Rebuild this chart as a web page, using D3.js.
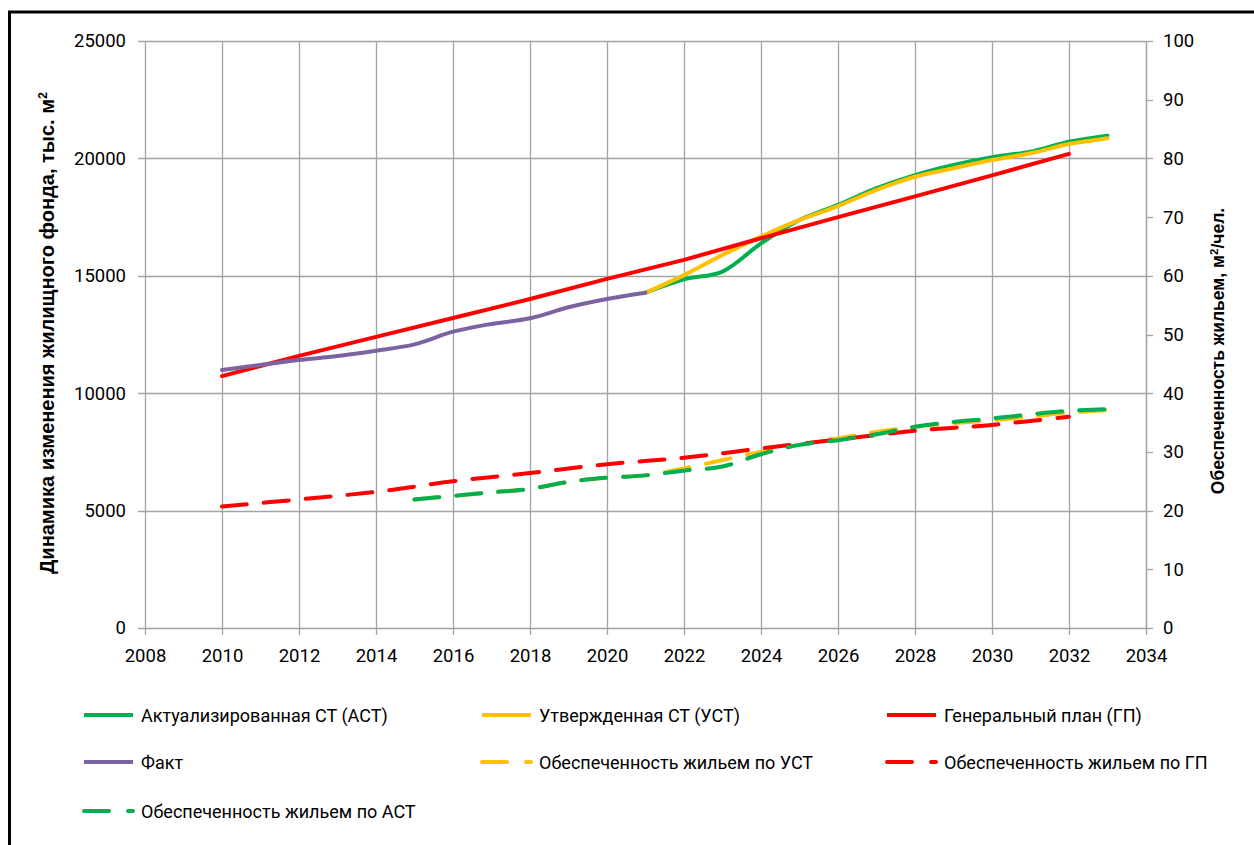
<!DOCTYPE html>
<html><head><meta charset="utf-8">
<script src="https://cdn.jsdelivr.net/npm/d3@7"></script>
<style>
html,body{margin:0;padding:0;background:#fff;}
text{font-family:Roboto,"Open Sans",sans-serif;fill:#000;}
</style></head>
<body>
<svg id="chart" width="1254" height="845"></svg>
<script>
// ---- data ----
const factYears = [2010,2011,2012,2013,2014,2015,2016,2017,2018,2019,2020,2021];
const factValues = [10990,11200,11410,11580,11810,12080,12620,12950,13190,13660,14010,14280];

const astYears = [2021,2022,2023,2024,2025,2026,2027,2028,2029,2030,2031,2032,2033];
const astValues = [14280,14850,15180,16380,17380,18020,18730,19290,19720,20050,20290,20710,20970];

const ustYears = [2021,2022,2023,2024,2025,2026,2027,2028,2029,2030,2031,2032,2033];
const ustValues = [14280,15030,15890,16670,17380,17970,18660,19220,19580,19930,20220,20610,20860];

const gpYears = [2010,2012,2014,2016,2018,2020,2022,2024,2026,2028,2030,2032];
const gpValues = [10730,11590,12400,13200,14010,14870,15680,16600,17500,18380,19280,20190];

const provUstYears = [2015,2016,2017,2018,2019,2020,2021,2022,2023,2024,2025,2026,2027,2028,2029,2030,2031,2032,2033];
const provUstValues = [21.9,22.5,23.1,23.7,24.9,25.6,26.0,27.2,28.6,30.0,31.2,32.3,33.4,34.3,34.9,35.4,36.0,36.7,37.1];

const provGpYears = [2010,2012,2014,2016,2018,2020,2022,2024,2026,2028,2030,2032];
const provGpValues = [20.7,21.9,23.2,25.0,26.4,27.9,29.0,30.6,32.1,33.6,34.6,36.0];

const provAstYears = [2015,2016,2017,2018,2019,2020,2021,2022,2023,2024,2025,2026,2027,2028,2029,2030,2031,2032,2033];
const provAstValues = [21.9,22.5,23.1,23.7,24.9,25.6,26.0,26.8,27.5,29.6,31.2,32.0,33.0,34.3,35.1,35.7,36.4,37.0,37.3];

const xTicks = [2008,2010,2012,2014,2016,2018,2020,2022,2024,2026,2028,2030,2032,2034];
const yLeftTicks = [0,5000,10000,15000,20000,25000];
const yRightTicks = [0,10,20,30,40,50,60,70,80,90,100];

const seriesSolid = [
  {name:"Актуализированная СТ (АСТ)", years:astYears, values:astValues, color:"#00B050"},
  {name:"Утвержденная СТ (УСТ)", years:ustYears, values:ustValues, color:"#FFC000"},
  {name:"Генеральный план (ГП)", years:gpYears, values:gpValues, color:"#FF0000", linear:true},
  {name:"Факт", years:factYears, values:factValues, color:"#7B62A0"}
];
const seriesDashed = [
  {name:"Обеспеченность жильем по УСТ", years:provUstYears, values:provUstValues, color:"#FFC000"},
  {name:"Обеспеченность жильем по ГП", years:provGpYears, values:provGpValues, color:"#FF0000"},
  {name:"Обеспеченность жильем по АСТ", years:provAstYears, values:provAstValues, color:"#00B050"}
];
const legendOrder = [
  {name:"Актуализированная СТ (АСТ)", color:"#00B050", dash:false},
  {name:"Утвержденная СТ (УСТ)", color:"#FFC000", dash:false},
  {name:"Генеральный план (ГП)", color:"#FF0000", dash:false},
  {name:"Факт", color:"#7B62A0", dash:false},
  {name:"Обеспеченность жильем по УСТ", color:"#FFC000", dash:true},
  {name:"Обеспеченность жильем по ГП", color:"#FF0000", dash:true},
  {name:"Обеспеченность жильем по АСТ", color:"#00B050", dash:true}
];

// ---- layout ----
const svg = d3.select("#chart");
const L = 145, R = 1146, T = 41, B = 628;
const x = d3.scaleLinear().domain([2008,2034]).range([L,R]);
const yL = d3.scaleLinear().domain([0,25000]).range([B,T]);
const yR = d3.scaleLinear().domain([0,100]).range([B,T]);
const grid = "#A3A3A3";

// frame
svg.append("rect").attr("x",9.5).attr("y",12).attr("width",1400).attr("height",1000)
  .attr("fill","none").attr("stroke","#000").attr("stroke-width",3);

// gridlines
const g = svg.append("g");
g.selectAll(".hg").data(yLeftTicks).join("line")
  .attr("x1",L-7).attr("x2",R).attr("y1",d=>Math.round(yL(d))+0.5).attr("y2",d=>Math.round(yL(d))+0.5)
  .attr("stroke",grid).attr("stroke-width",1.3);
g.selectAll(".vg").data(xTicks).join("line")
  .attr("x1",d=>Math.round(x(d))+0.5).attr("x2",d=>Math.round(x(d))+0.5).attr("y1",T).attr("y2",B+7)
  .attr("stroke",grid).attr("stroke-width",1.3);
// right axis
g.append("line").attr("x1",R+0.5).attr("x2",R+0.5).attr("y1",T).attr("y2",B).attr("stroke",grid).attr("stroke-width",1.3);
g.selectAll(".rt").data(yRightTicks).join("line")
  .attr("x1",R).attr("x2",R+7).attr("y1",d=>Math.round(yR(d))+0.5).attr("y2",d=>Math.round(yR(d))+0.5)
  .attr("stroke",grid).attr("stroke-width",1.3);

// axes with d3 (labels only, domain hidden)
const fs = 18.5;
const axL = svg.append("g").attr("transform",`translate(${L},0)`)
  .call(d3.axisLeft(yL).tickValues(yLeftTicks).tickSize(0).tickPadding(19).tickFormat(d=>String(d)));
const axR = svg.append("g").attr("transform",`translate(${R},0)`)
  .call(d3.axisRight(yR).tickValues(yRightTicks).tickSize(0).tickPadding(17).tickFormat(d=>String(d)));
const axX = svg.append("g").attr("transform",`translate(0,${B})`)
  .call(d3.axisBottom(x).tickValues(xTicks).tickSize(0).tickPadding(21).tickFormat(d=>String(d)));
[axL,axR,axX].forEach(a=>{
  a.select(".domain").remove();
  a.selectAll("text").attr("font-size",fs).attr("fill","#000").style("font-family","Roboto, sans-serif");
});

// lines
const lineL = d3.line().x((d)=>x(d[0])).y(d=>yL(d[1])).curve(d3.curveCatmullRom);
const lineLlin = d3.line().x((d)=>x(d[0])).y(d=>yL(d[1]));
const lineR = d3.line().x((d)=>x(d[0])).y(d=>yR(d[1])).curve(d3.curveCatmullRom);
const dash = "25,17";

seriesSolid.forEach(s=>{
  const pts = s.years.map((yv,i)=>[yv,s.values[i]]);
  svg.append("path").attr("d",(s.linear?lineLlin:lineL)(pts)).attr("fill","none")
    .attr("stroke",s.color).attr("stroke-width",4).attr("stroke-linecap","round").attr("stroke-linejoin","round");
});
seriesDashed.forEach(s=>{
  const pts = s.years.map((yv,i)=>[yv,s.values[i]]);
  svg.append("path").attr("d",lineR(pts)).attr("fill","none")
    .attr("stroke",s.color).attr("stroke-width",4).attr("stroke-linecap","round")
    .attr("stroke-dasharray",dash);
});

// axis titles
svg.append("text").attr("transform","translate(54,333) rotate(-90)").attr("text-anchor","middle")
  .style("font-family","'Liberation Sans', Arial, sans-serif")
  .attr("font-size",20).attr("font-weight","bold")
  .call(t=>{t.append("tspan").text("Динамика изменения жилищного фонда, тыс. м");
           t.append("tspan").attr("dy",-7).attr("font-size",12.5).text("2");});
svg.append("text").attr("transform","translate(1224,351) rotate(-90)").attr("text-anchor","middle")
  .style("font-family","'Liberation Sans', Arial, sans-serif")
  .attr("font-size",17.5).attr("font-weight","bold")
  .call(t=>{t.append("tspan").text("Обеспеченность жильем, м");
           t.append("tspan").attr("dy",-6).attr("font-size",11.5).text("2");
           t.append("tspan").attr("dy",6).text("/чел.");});

// legend
const colX = [82,480,885];
const rowY = [715,762,811];
legendOrder.forEach((d,i)=>{
  const cx = colX[i%3], cy = rowY[Math.floor(i/3)];
  const lg = svg.append("g");
  lg.append("line").attr("x1",cx+2).attr("x2",cx+51).attr("y1",cy).attr("y2",cy)
    .attr("stroke",d.color).attr("stroke-width",4).attr("stroke-linecap",d.dash?"round":"butt")
    .attr("stroke-dasharray",d.dash?"25,19":null);
  lg.append("text").attr("x",cx+59).attr("y",cy).attr("dominant-baseline","central")
    .attr("font-size",18).text(d.name);
});
</script>
</body></html>
